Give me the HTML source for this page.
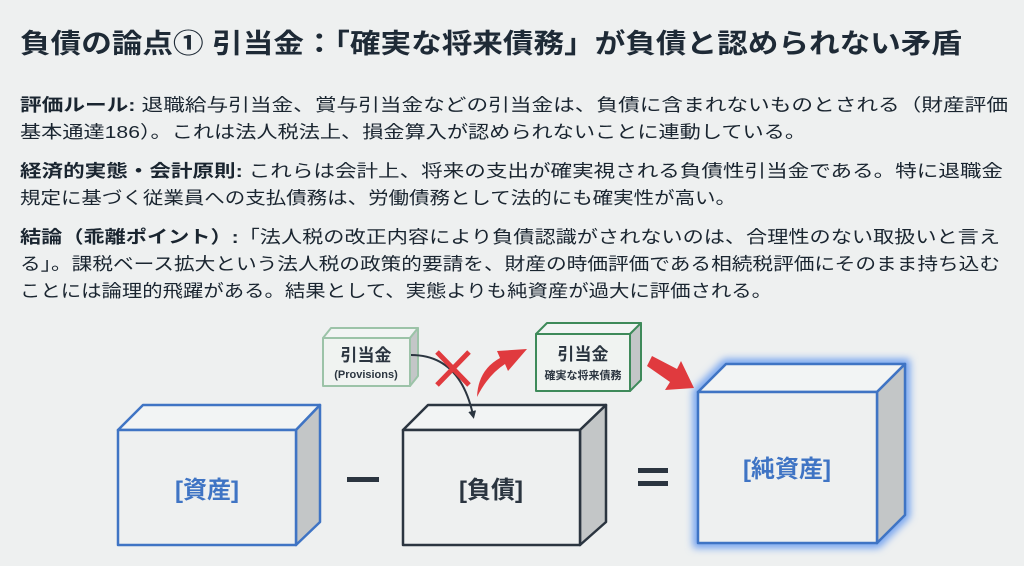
<!DOCTYPE html>
<html><head><meta charset="utf-8"><style>
html,body{margin:0;padding:0;background:#eef0f0;}
svg{display:block;font-family:"Liberation Sans","Noto Sans CJK JP",sans-serif;}
</style></head><body>
<svg width="1024" height="566" viewBox="0 0 1024 566" xmlns="http://www.w3.org/2000/svg">
<defs>
<filter id="glow" x="-20%" y="-20%" width="140%" height="140%"><feGaussianBlur stdDeviation="4"/></filter>
<marker id="ah" markerWidth="8" markerHeight="8" refX="4" refY="4" orient="auto" markerUnits="userSpaceOnUse"><path d="M0,0 L8,4 L0,8 Z" fill="#2b3540"/></marker>
</defs>
<rect width="1024" height="566" fill="#eef0f0"/>
<text x="20" y="53" font-size="27" font-weight="bold" fill="#1e2a36" textLength="942" lengthAdjust="spacingAndGlyphs">負債の論点① 引当金：「確実な将来債務」が負債と認められない矛盾</text>
<g font-size="17.5" fill="#1a2530">
<text x="20" y="111" textLength="988" lengthAdjust="spacingAndGlyphs"><tspan font-weight="bold">評価ルール:</tspan> 退職給与引当金、賞与引当金などの引当金は、負債に含まれないものとされる（財産評価</text>
<text x="20" y="138" textLength="786" lengthAdjust="spacingAndGlyphs">基本通達186）。これは法人税法上、損金算入が認められないことに連動している。</text>
<text x="20" y="177" textLength="983" lengthAdjust="spacingAndGlyphs"><tspan font-weight="bold">経済的実態・会計原則:</tspan> これらは会計上、将来の支出が確実視される負債性引当金である。特に退職金</text>
<text x="20" y="204" textLength="716" lengthAdjust="spacingAndGlyphs">規定に基づく従業員への支払債務は、労働債務として法的にも確実性が高い。</text>
<text x="20" y="243" textLength="980" lengthAdjust="spacingAndGlyphs"><tspan font-weight="bold">結論（乖離ポイント）:</tspan>「法人税の改正内容により負債認識がされないのは、合理性のない取扱いと言え</text>
<text x="20" y="270" textLength="980" lengthAdjust="spacingAndGlyphs">る」。課税ベース拡大という法人税の政策的要請を、財産の時価評価である相続税評価にそのまま持ち込む</text>
<text x="20" y="297" textLength="752" lengthAdjust="spacingAndGlyphs">ことには論理的飛躍がある。結果として、実態よりも純資産が過大に評価される。</text>
</g>
<g stroke="#3f74c4" stroke-width="2.5" stroke-linejoin="round">
<path d="M118,430 L143,405 L320,405 L296,430 Z" fill="#f2f4f4"/>
<path d="M296,430 L320,405 L320,522 L296,545 Z" fill="#c3c6c7"/>
<rect x="118" y="430" width="178" height="115" fill="#eef0f0"/>
</g>
<text x="207" y="498" font-size="24" font-weight="bold" fill="#3f74c4" text-anchor="middle">[資産]</text>
<rect x="347" y="477" width="32" height="5" fill="#2b3540"/>
<g stroke="#2b3540" stroke-width="2.5" stroke-linejoin="round">
<path d="M403,430 L428,405 L606,405 L580,430 Z" fill="#f2f4f4"/>
<path d="M580,430 L606,405 L606,522 L580,545 Z" fill="#c3c6c7"/>
<rect x="403" y="430" width="177" height="115" fill="#eef0f0"/>
</g>
<text x="491" y="498" font-size="24" font-weight="bold" fill="#2b3540" text-anchor="middle">[負債]</text>
<rect x="638" y="468" width="30" height="5" fill="#2b3540"/>
<rect x="638" y="481" width="30" height="5" fill="#2b3540"/>
<path d="M698,392 L726,364 L905,364 L905,515 L877,543 L698,543 Z" fill="none" stroke="#6fa0f0" stroke-width="10" filter="url(#glow)"/>
<g stroke="#3f74c4" stroke-width="2.5" stroke-linejoin="round">
<path d="M698,392 L726,364 L905,364 L877,392 Z" fill="#f2f4f4"/>
<path d="M877,392 L905,364 L905,515 L877,543 Z" fill="#c3c6c7"/>
<rect x="698" y="392" width="179" height="151" fill="#eef0f0"/>
</g>
<text x="787" y="477" font-size="24" font-weight="bold" fill="#3f74c4" text-anchor="middle">[純資産]</text>
<g stroke="#9cc3a8" stroke-width="2" stroke-linejoin="round">
<path d="M323,338 L331,328 L418,328 L410,338 Z" fill="#f2f4f4"/>
<path d="M410,338 L418,328 L418,376 L410,386 Z" fill="#c3c6c7"/>
<rect x="323" y="338" width="87" height="48" fill="#f0f3f1"/>
</g>
<text x="366" y="361" font-size="17" font-weight="bold" fill="#2b3540" text-anchor="middle">引当金</text>
<text x="366" y="378" font-size="11" font-weight="bold" fill="#2b3540" text-anchor="middle">(Provisions)</text>
<g stroke="#3e8a5a" stroke-width="2" stroke-linejoin="round">
<path d="M536,334 L547,323 L641,323 L630,334 Z" fill="#f2f4f4"/>
<path d="M630,334 L641,323 L641,380 L630,391 Z" fill="#c3c6c7"/>
<rect x="536" y="334" width="94" height="57" fill="#f0f3f1"/>
</g>
<text x="583" y="360" font-size="17" font-weight="bold" fill="#2b3540" text-anchor="middle">引当金</text>
<text x="583" y="379" font-size="11" font-weight="bold" fill="#2b3540" text-anchor="middle">確実な将来債務</text>
<path d="M411,355 Q460,355 473,415" fill="none" stroke="#2b3540" stroke-width="2" marker-end="url(#ah)"/>
<path d="M437,352 L469,385 M469,352 L437,385" stroke="#e03a3e" stroke-width="5"/>
<path d="M477,397 Q478,370 500,358 L497,351 L527,349 L508,371 L505,364 Q488,375 477,397 Z" fill="#e03a3e"/>
<path d="M647,366 L652,356 L677,369 L681,361 L694,388 L665,390 L670,382 Z" fill="#e03a3e"/>
</svg>
</body></html>
